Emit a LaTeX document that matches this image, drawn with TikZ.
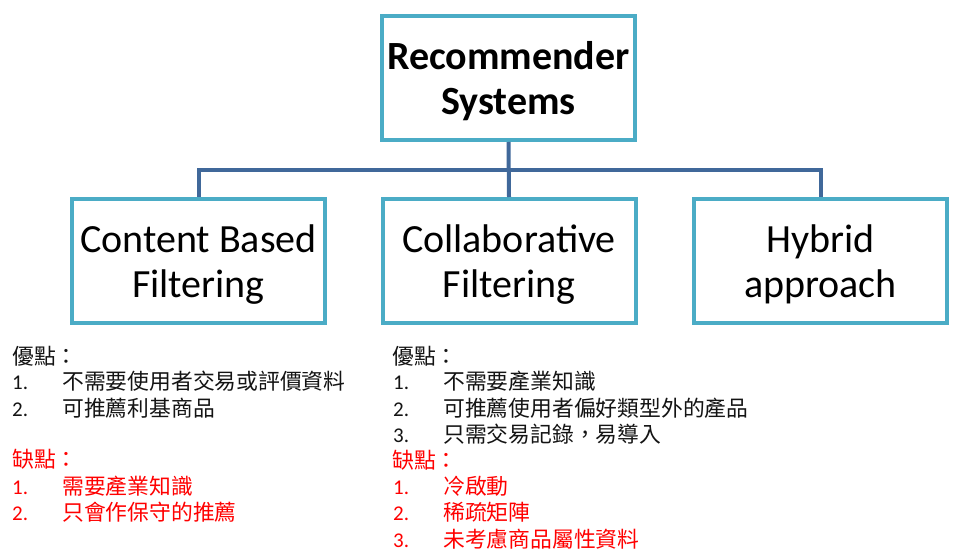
\documentclass[tikz,border=0pt]{standalone}
\usepackage{fontspec}
\setmainfont{Carlito}
\newfontfamily\cjk{Noto Sans CJK TC}
\definecolor{boxcol}{RGB}{75,172,198}
\definecolor{linecol}{RGB}{64,104,154}
\definecolor{redtxt}{RGB}{255,0,0}
\definecolor{blktxt}{RGB}{20,20,20}
\tikzset{
  catbox/.style={draw=boxcol, line width=4pt, fill=white, minimum width=253pt, minimum height=124pt,
    align=center, font=\fontsize{40}{45}\selectfont, inner sep=0pt, text depth=-4pt},
  conn/.style={draw=linecol, line width=4pt},
  itm/.style={anchor=base west, inner sep=0pt, font=\fontsize{21}{24}\selectfont},
  cjkitm/.style={anchor=base west, inner sep=0pt, font=\cjk\fontsize{21.8}{24}\selectfont},
}
\begin{document}
\begin{tikzpicture}[x=1pt,y=1pt]
\useasboundingbox (0,0) rectangle (959,558);
\fill[white] (0,0) rectangle (959,558);
% boxes
\node[catbox, font=\bfseries\fontsize{40}{45}\selectfont] (top) at (508.5,480) {Recommender\\Systems};
\node[catbox] (cbf) at (198.5,297) {Content Based\\Filtering};
\node[catbox] (cf) at (509,297) {Collaborative\\Filtering};
\node[catbox] (hyb) at (820.5,297) {Hybrid\\approach};
\coordinate (bus) at (508.5,388);
\draw[conn] (top.south) -- (cf.north);
\draw[conn] (cbf.north) |- (bus) -| (hyb.north);
% left list
\begin{scope}[blktxt]
\node[cjkitm, text=blktxt] (lpro) at (12,{558-357-7}) {優點：};
\foreach \n/\y/\t in {1/382/不需要使用者交易或評價資料, 2/409/可推薦利基商品}{
  \node[itm, text=blktxt] (lpn\n) at (12,{558-\y-7}) {\n.};
  \node[cjkitm, text=blktxt] (lpt\n) at (62,{558-\y-7}) {\t};
}
\end{scope}
\node[cjkitm, text=redtxt] (lcon) at (12,{558-460-7}) {缺點：};
\foreach \n/\y/\t in {1/487/需要產業知識, 2/513/只會作保守的推薦}{
  \node[itm, text=redtxt] (lcn\n) at (12,{558-\y-7}) {\n.};
  \node[cjkitm, text=redtxt] (lct\n) at (62,{558-\y-7}) {\t};
}
% middle list
\node[cjkitm, text=blktxt] (mpro) at (392,{558-357-7}) {優點：};
\foreach \n/\y/\t in {1/382/不需要產業知識, 2/409/可推薦使用者偏好類型外的產品, 3/435/只需交易記錄，易導入}{
  \node[itm, text=blktxt] (mpn\n) at (393,{558-\y-7}) {\n.};
  \node[cjkitm, text=blktxt] (mpt\n) at (443,{558-\y-7}) {\t};
}
\node[cjkitm, text=redtxt] (mcon) at (392,{558-461-7}) {缺點：};
\foreach \n/\y/\t in {1/487/冷啟動, 2/513/稀疏矩陣, 3/540/未考慮商品屬性資料}{
  \node[itm, text=redtxt] (mcn\n) at (393,{558-\y-7}) {\n.};
  \node[cjkitm, text=redtxt] (mct\n) at (443,{558-\y-7}) {\t};
}
\end{tikzpicture}
\end{document}
